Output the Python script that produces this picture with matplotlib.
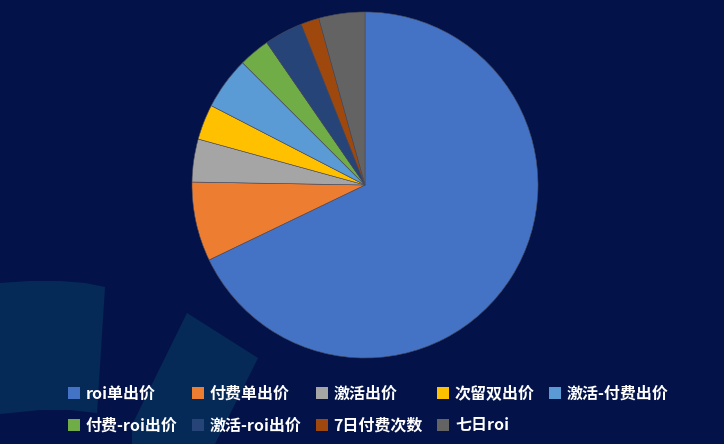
import matplotlib
matplotlib.use("Agg")
import matplotlib.pyplot as plt
from matplotlib.patches import Patch, Polygon

plt.rcParams['font.family'] = ['Noto Sans CJK SC', 'DejaVu Sans']

categories = ['roi单出价', '付费单出价', '激活出价', '次留双出价', '激活-付费出价',
              '付费-roi出价', '激活-roi出价', '7日付费次数', '七日roi']
values = [67.8, 7.4, 4.0, 3.3, 4.9, 2.9, 3.6, 1.7, 4.3]
colors = ['#4472C4', '#ED7D31', '#A5A5A5', '#FFC000', '#5B9BD5',
          '#70AD47', '#264478', '#9E480E', '#636363']

W, H = 724, 444
bg = '#03134A'
fig = plt.figure(figsize=(W / 100, H / 100), dpi=100)
fig.patch.set_facecolor(bg)

# decorative background shapes (pixel coords -> figure coords)
def px(pts):
    return [(x / W, 1 - y / H) for x, y in pts]

deco = '#062A58'
shape1 = [(0, 283), (30, 281), (60, 281), (85, 283), (105, 287), (97, 413),
          (70, 410), (40, 410), (0, 414)]
shape2 = [(187, 313), (258, 358), (215, 444), (132, 444), (132, 425)]
for s in (shape1, shape2):
    fig.patches.append(Polygon(px(s), closed=True, transform=fig.transFigure,
                               facecolor=deco, edgecolor='none', zorder=0))

cx, cy, r = 365, 185, 173
ax = fig.add_axes([(cx - r) / W, (H - cy - r) / H, 2 * r / W, 2 * r / H])
ax.set_facecolor('none')
wedges, _ = ax.pie(values, colors=colors, startangle=90, counterclock=False,
                   radius=1, wedgeprops=dict(linewidth=0.4, edgecolor='#4a4a5a'))
ax.set_xlim(-1, 1)
ax.set_ylim(-1, 1)
ax.set_aspect('equal')
ax.axis('off')

handles = [Patch(facecolor=c, edgecolor='none') for c in colors]
order = [0, 5, 1, 6, 2, 7, 3, 8, 4]
leg = fig.legend([handles[i] for i in order], [categories[i] for i in order],
                 ncol=5, loc='upper left', bbox_to_anchor=(54 / W, 1 - 371 / H),
                 frameon=False, handlelength=0.75, handleheight=0.75,
                 handletextpad=0.35, columnspacing=0.9, labelspacing=1.0,
                 prop=dict(size=11.5, weight='bold'))
for t in leg.get_texts():
    t.set_color('white')

fig.savefig('out.png', dpi=100, facecolor=bg)
